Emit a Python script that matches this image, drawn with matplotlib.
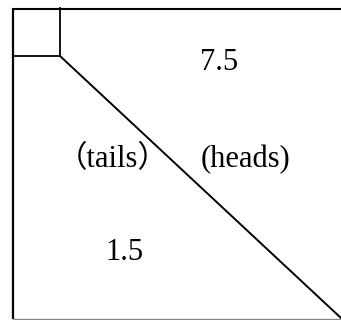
import matplotlib
matplotlib.use('Agg')
import matplotlib.pyplot as plt

# text labels in the diagram and where they sit (pixel coords, y down)
labels = ['7.5', '（tails）', '(heads)', '1.5']
label_x = [219, 113, 245, 124]
label_y = [63, 160, 160, 253]

W, H = 341, 320

fig = plt.figure(figsize=(W / 100, H / 100), dpi=100)
ax = fig.add_axes([0, 0, 1, 1])
ax.set_xlim(0, W)
ax.set_ylim(H, 0)
ax.axis('off')

# outer frame (cut off on the right)
ax.plot([13, 13], [8, 319], color='black', lw=1.6, solid_capstyle='butt')
ax.plot([12, W], [8.5, 8.5], color='black', lw=1.5, solid_capstyle='butt')
ax.plot([13, W], [319, 319], color='#888888', lw=1.0)

# small square in the corner
ax.plot([60, 60], [8, 56], color='black', lw=1.3)
ax.plot([13, 60], [56, 56], color='black', lw=1.3)

# diagonal
ax.plot([60, W], [56, 318], color='black', lw=1.4)

for t, x, y in zip(labels, label_x, label_y):
    ax.text(x, y, t, ha='center', va='center', fontsize=22,
            family=['Liberation Serif', 'Noto Sans CJK SC'])

fig.savefig('out.png', dpi=100)
